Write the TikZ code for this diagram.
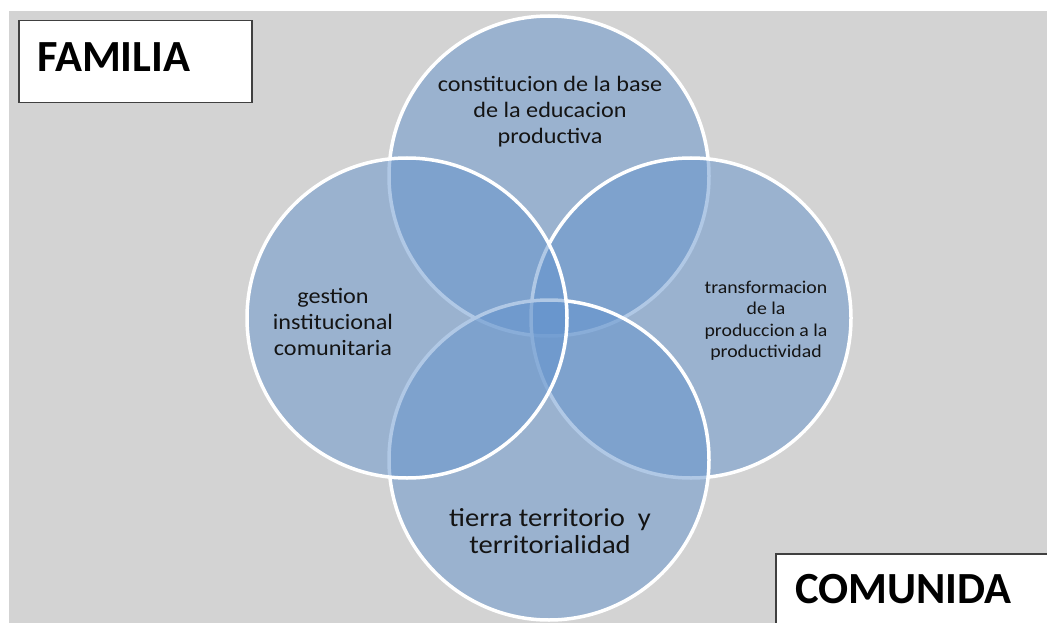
\documentclass[tikz,border=0pt]{standalone}
\usepackage{fontspec}
\setmainfont{Carlito}
\newfontfamily\widefont[FakeStretch=1.1]{Carlito}
\definecolor{bggray}{RGB}{211,211,211}
\definecolor{vennblue}{RGB}{99,147,205}
\definecolor{txt}{RGB}{20,20,20}
\begin{document}
\begin{tikzpicture}[x=1pt,y=-1pt,
  venn/.style={circle, minimum size=320pt, inner sep=0pt, fill=vennblue, fill opacity=0.5, draw=white, line width=3.5pt},
  lbl/.style={align=center, text=txt, inner sep=0pt},
  big/.style={font=\widefont\fontsize{22}{26}\selectfont},
  small/.style={font=\widefont\fontsize{18}{21.5}\selectfont},
  huge/.style={font=\widefont\fontsize{26}{27}\selectfont},
  box/.style={rectangle, fill=white, draw=black!75, line width=1.5pt, inner sep=0pt, anchor=north west},
  boxtxt/.style={anchor=base west, inner sep=0pt, font=\fontsize{44.5}{54}\selectfont\bfseries, text=black}]
\useasboundingbox (0,0) rectangle (1047,623);
\clip (0,0) rectangle (1047,623);
\fill[bggray] (9,11) rectangle (1047,623);
% circles (order matters for overlapping borders)
\node[venn] (ctop) at (549,176) {};
\node[venn] (cright) at (691,318) {};
\node[venn] (cbottom) at (549,460) {};
\node[venn] (cleft) at (407,318) {};
% labels
\node[lbl,big] (ttop) at (550,112) {constitucion de la base\\de la educacion\\productiva};
\node[lbl,big] (tleft) at (333,322) {gestion\\institucional\\comunitaria};
\node[lbl,small] (tright) at (766,321) {transformacion\\de la\\produccion a la\\productividad};
\node[lbl,huge] (tbottom) at (550,531) {tierra territorio\ \ y\\territorialidad};
% corner boxes
\node[box, minimum width=233pt, minimum height=82pt] (famb) at (18,20) {};
\node[boxtxt] (famt) at (37,72) {FAMILIA};
\node[box, minimum width=300pt, minimum height=100pt] (comb) at (775,553) {};
\node[boxtxt] (comt) at (795,603) {COMUNIDA};
\end{tikzpicture}
\end{document}
